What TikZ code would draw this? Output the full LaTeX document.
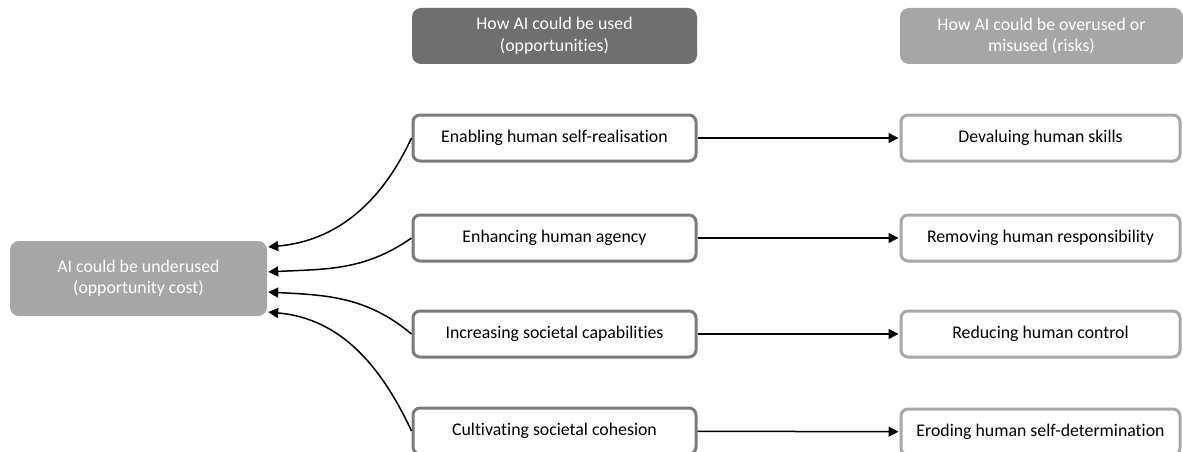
\documentclass[tikz,border=0pt]{standalone}
\usepackage{fontspec}
\setmainfont{Carlito}[Ligatures=NoCommon]
\usetikzlibrary{arrows.meta}
\definecolor{darkhead}{HTML}{6F6F6F}
\definecolor{lighthead}{HTML}{A6A6A6}
\definecolor{usedline}{HTML}{7B7B7B}
\definecolor{riskline}{HTML}{A8A8A8}

\begin{document}
\begin{tikzpicture}[x=1pt,y=1pt,
    every node/.style={font=\fontsize{17.8}{21.5}\selectfont, align=center, inner sep=0pt},
    head/.style={rounded corners=9pt, minimum height=56pt, text=white},
    item/.style={draw, line width=3pt, rounded corners=7pt, fill=white, minimum height=46pt},
    used/.style={item, draw=usedline, minimum width=283pt},
    risk/.style={item, draw=riskline, minimum width=279pt},
    link/.style={line width=1.5pt, shorten >=1pt, -{Triangle[length=10pt,width=10pt]}}]
  \useasboundingbox (0,0) rectangle (1183,-452);
  % headers
  \node[head, fill=darkhead, minimum width=285pt] (opp) at (554.5,-36) {How AI could be used\\(opportunities)};
  \node[head, fill=lighthead, minimum width=283pt] (risks) at (1041.5,-36) {How AI could be overused or\\misused (risks)};
  % left box
  \node[head, fill=lighthead, minimum width=257pt, minimum height=75pt] (under) at (138.5,-278.5) {AI could be underused\\(opportunity cost)};
  % opportunities
  \node[used] (enable) at (554.5,-138) {Enabling human self-realisation};
  \node[used] (enhance) at (554.5,-238) {Enhancing human agency};
  \node[used] (increase) at (554.5,-334) {Increasing societal capabilities};
  \node[used] (cultivate) at (554.5,-431) {Cultivating societal cohesion};
  % risks
  \node[risk] (devalue) at (1040.5,-138) {Devaluing human skills};
  \node[risk] (remove) at (1040.5,-238) {Removing human responsibility};
  \node[risk] (reduce) at (1040.5,-334) {Reducing human control};
  \node[risk] (erode) at (1040.5,-432) {Eroding human self-determination};
  % ends on the left box
  \coordinate (u1) at ([yshift=31.5pt]under.east);
  \coordinate (u2) at ([yshift=6.5pt]under.east);
  \coordinate (u3) at ([yshift=-13.5pt]under.east);
  \coordinate (u4) at ([yshift=-33.5pt]under.east);
  \draw[link] (enable.west) to[out=245, in=5] (u1);
  \draw[link] (enhance.west) to[out=215, in=3] (u2);
  \draw[link] (increase.west) to[out=140, in=-3] (u3);
  \draw[link] (cultivate.west) to[out=115, in=-5] (u4);
  \draw[link] (enable) -- (devalue);
  \draw[link] (enhance) -- (remove);
  \draw[link] (increase) -- (reduce);
  \draw[link] (cultivate) -- (erode);
\end{tikzpicture}
\end{document}
